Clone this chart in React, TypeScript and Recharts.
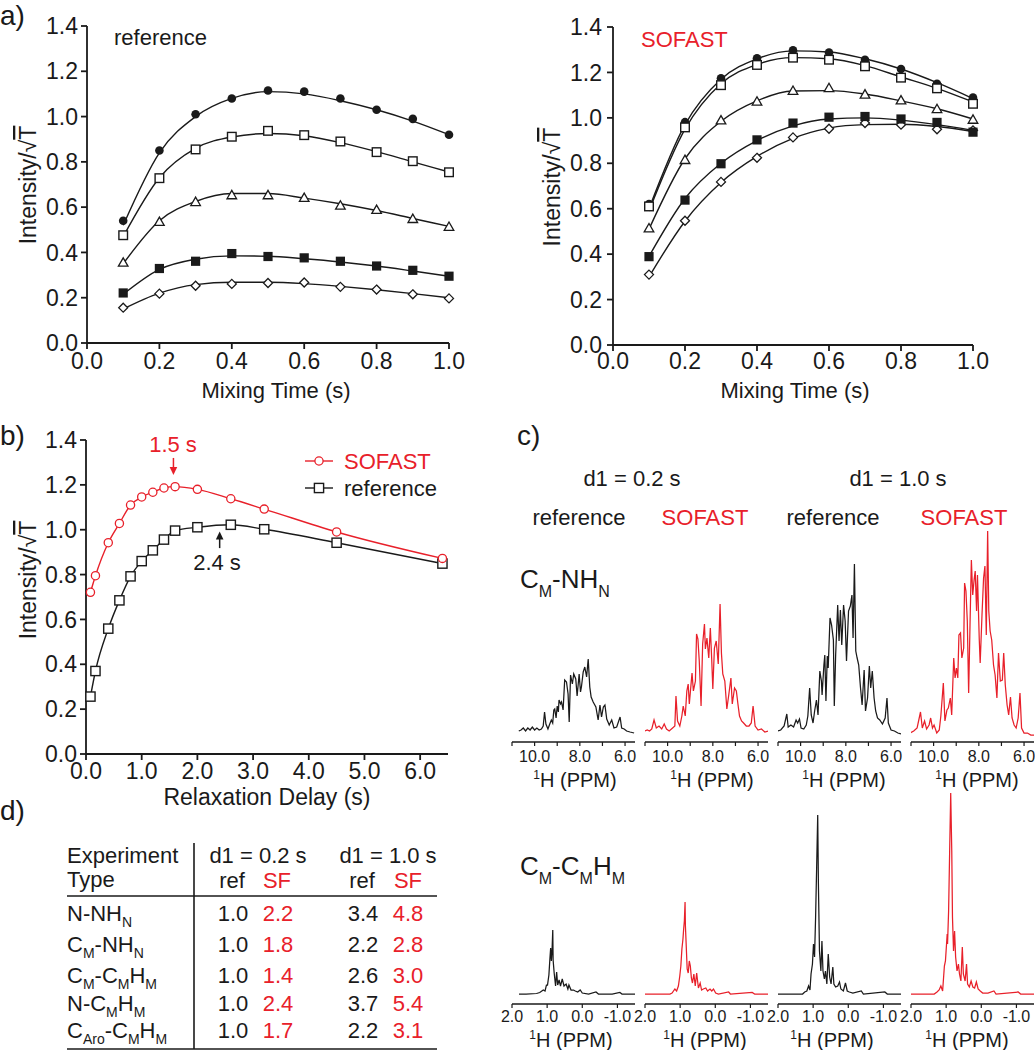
import React from "react";
import {
  ComposedChart,
  LineChart,
  Line,
  XAxis,
  YAxis,
  ReferenceLine,
  ReferenceDot,
} from "recharts";

const FONT = '"Liberation Sans", Arial, Helvetica, sans-serif';
const INK = "#1a1a1a";
const RED = "#e8202a";

// ---- a) intensity vs mixing time ----
const mixingTime = [0.1, 0.2, 0.3, 0.4, 0.5, 0.6, 0.7, 0.8, 0.9, 1.0];
const mixTicks = [0, 0.2, 0.4, 0.6, 0.8, 1.0];
const intensityTicks = [0, 0.2, 0.4, 0.6, 0.8, 1.0, 1.2, 1.4];

// reference experiment
const refDot = [0.54, 0.85, 1.01, 1.08, 1.115, 1.11, 1.08, 1.03, 0.99, 0.92];
const refBox = [0.476, 0.728, 0.855, 0.911, 0.937, 0.918, 0.89, 0.843, 0.803, 0.754];
const refTri = [0.355, 0.535, 0.623, 0.653, 0.653, 0.641, 0.607, 0.588, 0.548, 0.513];
const refSolid = [0.221, 0.329, 0.361, 0.395, 0.382, 0.376, 0.361, 0.34, 0.321, 0.295];
const refDiamond = [0.156, 0.218, 0.253, 0.261, 0.265, 0.267, 0.248, 0.236, 0.215, 0.197];
const refDotFit = [0.52, 0.84, 1.0, 1.08, 1.11, 1.1, 1.07, 1.03, 0.98, 0.92];
const refBoxFit = [0.47, 0.73, 0.86, 0.91, 0.925, 0.915, 0.885, 0.845, 0.8, 0.755];
const refTriFit = [0.35, 0.54, 0.625, 0.66, 0.66, 0.64, 0.615, 0.585, 0.55, 0.515];
const refSolidFit = [0.215, 0.325, 0.37, 0.385, 0.383, 0.372, 0.358, 0.34, 0.318, 0.295];
const refDiamondFit = [0.15, 0.22, 0.258, 0.268, 0.268, 0.262, 0.25, 0.235, 0.218, 0.2];

// SOFAST experiment
const sfDot = [0.621, 0.981, 1.174, 1.262, 1.297, 1.288, 1.256, 1.215, 1.15, 1.089];
const sfBox = [0.61, 0.958, 1.144, 1.233, 1.265, 1.256, 1.227, 1.177, 1.13, 1.062];
const sfTri = [0.514, 0.815, 0.989, 1.072, 1.119, 1.131, 1.103, 1.077, 1.039, 0.992];
const sfSolid = [0.389, 0.638, 0.798, 0.903, 0.977, 1.003, 1.006, 0.995, 0.98, 0.937];
const sfDiamond = [0.31, 0.547, 0.718, 0.824, 0.914, 0.952, 0.977, 0.97, 0.95, 0.945];
const sfDotFit = [0.6, 0.97, 1.17, 1.26, 1.295, 1.29, 1.26, 1.215, 1.155, 1.085];
const sfBoxFit = [0.59, 0.95, 1.15, 1.235, 1.265, 1.26, 1.23, 1.18, 1.13, 1.07];
const sfTriFit = [0.51, 0.82, 0.985, 1.075, 1.118, 1.12, 1.105, 1.075, 1.04, 0.995];
const sfSolidFit = [0.39, 0.645, 0.8, 0.9, 0.965, 0.995, 1.0, 0.99, 0.97, 0.945];
const sfDiamondFit = [0.3, 0.545, 0.715, 0.83, 0.91, 0.955, 0.97, 0.972, 0.962, 0.94];

// ---- b) intensity vs relaxation delay ----
const relaxDelay = [0.08, 0.17, 0.4, 0.6, 0.8, 1.0, 1.2, 1.4, 1.6, 2.0, 2.6, 3.2, 4.5, 6.4];
const sofastRelax = [0.721, 0.795, 0.942, 1.028, 1.11, 1.146, 1.167, 1.186, 1.192, 1.18, 1.138, 1.092, 0.99, 0.872];
const referenceRelax = [0.256, 0.37, 0.559, 0.685, 0.792, 0.86, 0.908, 0.956, 0.996, 1.011, 1.022, 1.002, 0.942, 0.849];
const relaxTicks = [0, 1, 2, 3, 4, 5, 6];

// ---- c) 1D spectra [ppm, intensity] ----
const amideTicks = [11, 10, 9, 8, 7, 6];
const methylTicks = [2, 1, 0, -1];

const nhRef02: [number, number][] = [
  [10.7, 1], [10.6, 2], [10.5, 4], [10.4, 1], [10.3, 4], [10.2, 2], [10.1, 5], [10.0, 2], [9.9, 4], [9.8, 2],
  [9.7, 3], [9.62, 6], [9.56, 20], [9.5, 8], [9.41, 3], [9.33, 8], [9.26, 12], [9.2, 9], [9.15, 22], [9.11, 23],
  [9.05, 14], [9.0, 26], [8.95, 20], [8.92, 32], [8.85, 28], [8.81, 30], [8.74, 22], [8.67, 52], [8.59, 50],
  [8.52, 38], [8.47, 10], [8.41, 57], [8.33, 48], [8.27, 58], [8.18, 53], [8.12, 36], [8.03, 58], [7.97, 40],
  [7.93, 45], [7.85, 60], [7.78, 65], [7.7, 55], [7.63, 73], [7.56, 45], [7.5, 35], [7.41, 30], [7.29, 25],
  [7.19, 12], [7.11, 27], [7.04, 15], [6.96, 25], [6.89, 27], [6.81, 13], [6.7, 7], [6.59, 12], [6.49, 4],
  [6.37, 5], [6.22, 15], [6.15, 4], [6.04, 3], [5.93, 1], [5.78, 0], [5.6, -1],
];
const nhSf02: [number, number][] = [
  [11.0, 1], [10.9, 2], [10.8, 1], [10.7, 3], [10.6, 12], [10.5, 4], [10.38, 6], [10.26, 3], [10.15, 8], [10.05, 3],
  [9.93, 1], [9.78, 4], [9.68, 6], [9.63, 36], [9.56, 11], [9.46, 6], [9.37, 16], [9.31, 26], [9.22, 16], [9.15, 41],
  [9.09, 48], [9.04, 28], [8.92, 59], [8.86, 41], [8.77, 51], [8.72, 98], [8.66, 93], [8.6, 71], [8.52, 26],
  [8.45, 88], [8.37, 108], [8.33, 83], [8.26, 94], [8.18, 74], [8.11, 104], [8.05, 73], [8.0, 43], [7.93, 84],
  [7.85, 91], [7.76, 68], [7.68, 128], [7.62, 79], [7.56, 58], [7.47, 51], [7.38, 23], [7.29, 38], [7.2, 54],
  [7.14, 28], [7.04, 44], [6.96, 41], [6.89, 28], [6.82, 16], [6.73, 11], [6.64, 9], [6.52, 6], [6.4, 6],
  [6.3, 9], [6.22, 26], [6.13, 6], [6.0, 2], [5.85, 3], [5.7, 0], [5.56, 1],
];
const nhRef10: [number, number][] = [
  [11.0, 1], [10.88, 2], [10.73, 6], [10.61, 18], [10.55, 5], [10.43, 7], [10.31, 5], [10.2, 12], [10.13, 9],
  [10.05, 13], [9.98, 4], [9.86, 3], [9.75, 7], [9.68, 16], [9.6, 44], [9.53, 17], [9.45, 9], [9.38, 21],
  [9.3, 32], [9.23, 17], [9.15, 61], [9.08, 51], [9.05, 37], [8.97, 67], [8.93, 77], [8.88, 31], [8.82, 76],
  [8.78, 64], [8.7, 114], [8.63, 107], [8.55, 92], [8.51, 26], [8.45, 77], [8.36, 127], [8.3, 91], [8.24, 122],
  [8.18, 87], [8.1, 127], [8.03, 111], [7.97, 71], [7.88, 121], [7.8, 126], [7.73, 137], [7.68, 94], [7.62, 168],
  [7.56, 81], [7.5, 74], [7.43, 67], [7.35, 44], [7.28, 27], [7.19, 62], [7.13, 21], [7.04, 34], [6.96, 66],
  [6.9, 44], [6.83, 61], [6.75, 34], [6.68, 21], [6.6, 14], [6.5, 12], [6.38, 8], [6.26, 14], [6.18, 34],
  [6.12, 9], [6.0, 2], [5.85, 1], [5.7, -1], [5.56, -2],
];
const nhSf10: [number, number][] = [
  [11.03, -1], [10.88, 1], [10.73, 4], [10.58, 20], [10.5, 4], [10.4, 11], [10.31, 3], [10.2, 7], [10.13, 14],
  [10.05, 4], [9.98, 7], [9.86, -1], [9.75, 2], [9.68, 16], [9.57, 49], [9.5, 11], [9.41, 22], [9.35, 24],
  [9.26, 34], [9.2, 17], [9.11, 74], [9.05, 54], [8.99, 64], [8.93, 54], [8.88, 97], [8.81, 99], [8.75, 74],
  [8.67, 84], [8.63, 149], [8.57, 141], [8.51, 111], [8.45, 39], [8.39, 107], [8.33, 172], [8.27, 137],
  [8.21, 152], [8.16, 161], [8.1, 121], [8.06, 157], [7.98, 92], [7.94, 69], [7.86, 117], [7.79, 154],
  [7.73, 166], [7.67, 97], [7.61, 201], [7.56, 121], [7.5, 101], [7.43, 92], [7.35, 67], [7.28, 57], [7.2, 34],
  [7.13, 79], [7.05, 51], [6.96, 52], [6.9, 79], [6.83, 47], [6.75, 27], [6.68, 17], [6.6, 35], [6.53, 14],
  [6.44, 7], [6.35, 4], [6.26, 14], [6.18, 39], [6.11, 4], [6.0, -1], [5.85, -1], [5.7, -3], [5.56, -3],
];

const meRef02: [number, number][] = [
  [1.8, 0], [1.6, 0], [1.3, 0.5], [1.21, 1.5], [1.11, 4], [1.06, 3], [1.02, 9], [0.99, 9], [0.95, 19], [0.92, 36],
  [0.9, 46], [0.88, 33], [0.86, 44], [0.84, 64], [0.83, 34], [0.8, 21], [0.76, 8], [0.73, 22], [0.7, 9],
  [0.66, 14], [0.62, 8], [0.57, 15], [0.52, 8], [0.46, 10], [0.41, 5], [0.38, 9], [0.32, 4], [0.25, 4],
  [0.2, 3], [0.13, 2], [0.06, 4], [0.0, 1], [-0.18, 0], [-0.39, 2], [-0.46, 0], [-0.85, 0], [-1.07, 1.5],
  [-1.13, 0], [-1.5, 0],
];
const meSf02: [number, number][] = [
  [2.0, 0], [1.6, 0], [1.29, 0], [1.23, 1], [1.15, 5], [1.1, 3], [1.05, 8], [1.01, 18], [0.98, 28], [0.95, 45],
  [0.92, 55], [0.9, 65], [0.88, 73], [0.86, 92], [0.85, 68], [0.83, 51], [0.8, 25], [0.77, 21], [0.74, 33],
  [0.71, 28], [0.68, 16], [0.65, 11], [0.61, 20], [0.57, 8], [0.53, 21], [0.48, 6], [0.43, 11], [0.39, 4],
  [0.34, 5], [0.27, 6], [0.22, 3], [0.15, 5], [0.1, 3], [0.05, 5], [-0.01, 1], [-0.09, 0], [-0.38, 2],
  [-0.43, 0], [-1.05, 1.5], [-1.12, 0], [-1.5, 0],
];
const meRef10: [number, number][] = [
  [2.0, 0], [1.6, 0], [1.3, 0], [1.24, 2], [1.18, 3], [1.13, 8], [1.09, 4], [1.06, 20], [1.02, 30], [0.99, 50],
  [0.96, 37], [0.93, 77], [0.9, 127], [0.87, 179], [0.85, 110], [0.82, 43], [0.78, 23], [0.75, 53], [0.72, 23],
  [0.68, 15], [0.65, 23], [0.61, 10], [0.57, 40], [0.53, 17], [0.49, 10], [0.44, 27], [0.41, 10], [0.36, 7],
  [0.3, 8], [0.25, 12], [0.21, 5], [0.14, 3], [0.08, 11], [0.03, 3], [-0.03, 2], [-0.13, 1], [-0.37, 3],
  [-0.43, 0], [-1.04, 2], [-1.11, 0], [-1.5, 0],
];
const meSf10: [number, number][] = [
  [2.0, 0], [1.6, 0], [1.34, 0], [1.26, 2], [1.2, 4], [1.15, 8], [1.1, 3], [1.05, 28], [1.02, 33], [0.97, 60],
  [0.96, 50], [0.93, 83], [0.9, 143], [0.87, 201], [0.84, 143], [0.82, 77], [0.79, 43], [0.76, 63], [0.73, 37],
  [0.69, 23], [0.65, 30], [0.62, 20], [0.58, 13], [0.54, 47], [0.51, 20], [0.46, 13], [0.42, 30], [0.39, 10],
  [0.34, 7], [0.29, 13], [0.24, 7], [0.19, 6], [0.14, 12], [0.09, 5], [0.03, 3], [-0.04, 1], [-0.19, 1],
  [-0.36, 3], [-0.42, 0], [-1.05, 2], [-1.12, 0], [-1.5, 0],
];

// ---- d) sensitivity table ----
const experimentTypes: [string, boolean][][] = [
  [["N-NH", false], ["N", true]],
  [["C", false], ["M", true], ["-NH", false], ["N", true]],
  [["C", false], ["M", true], ["-C", false], ["M", true], ["H", false], ["M", true]],
  [["N-C", false], ["M", true], ["H", false], ["M", true]],
  [["C", false], ["Aro", true], ["-C", false], ["M", true], ["H", false], ["M", true]],
];
const ref02 = ["1.0", "1.0", "1.0", "1.0", "1.0"];
const sf02 = ["2.2", "1.8", "1.4", "2.4", "1.7"];
const ref10 = ["3.4", "2.2", "2.6", "3.7", "2.2"];
const sf10 = ["4.8", "2.8", "3.0", "5.4", "3.1"];

type Kind = "dot" | "box" | "tri" | "solid" | "diamond" | "ring" | "square";

function Marker({ kind, cx, cy, color = INK }: { kind: Kind; cx?: number; cy?: number; color?: string }) {
  if (cx == null || cy == null) return null;
  switch (kind) {
    case "dot":
      return <circle cx={cx} cy={cy} r={4.3} fill={color} />;
    case "box":
      return <rect x={cx - 4.3} y={cy - 4.3} width={8.6} height={8.6} fill="#fff" stroke={color} strokeWidth={1.4} />;
    case "square":
      return <rect x={cx - 4.6} y={cy - 4.6} width={9.2} height={9.2} fill="#fff" stroke={color} strokeWidth={1.4} />;
    case "solid":
      return <rect x={cx - 4.6} y={cy - 4.6} width={9.2} height={9.2} fill={color} />;
    case "tri":
      return (
        <polygon
          points={`${cx},${cy - 4.8} ${cx + 4.8},${cy + 3.6} ${cx - 4.8},${cy + 3.6}`}
          fill="#fff"
          stroke={color}
          strokeWidth={1.3}
        />
      );
    case "diamond":
      return (
        <polygon
          points={`${cx},${cy - 4.5} ${cx + 4.5},${cy} ${cx},${cy + 4.5} ${cx - 4.5},${cy}`}
          fill="#fff"
          stroke={color}
          strokeWidth={1.3}
        />
      );
    case "ring":
      return <circle cx={cx} cy={cy} r={4.1} fill="#fff" stroke={color} strokeWidth={1.3} />;
  }
  return null;
}

const dotOf = (kind: Kind, color?: string) => (p: any) =>
  <Marker key={`${kind}-${p.index}`} kind={kind} cx={p.cx} cy={p.cy} color={color} />;

const axisLine = { stroke: INK, strokeWidth: 1.8 };
const tickStyle = (size: number) => ({ fill: INK, fontSize: size, fontFamily: FONT });

type MixSeries = { key: string; values: number[]; fit: number[]; kind: Kind };

function MixingPanel(props: {
  left: number;
  width: number;
  plotLeft: number;
  plotRight: number;
  plotTop: number;
  plotBottom: number;
  series: MixSeries[];
  yTickMargin: number;
  xTickMargin: number;
}) {
  const { left, width, plotLeft, plotRight, plotTop, plotBottom, series, yTickMargin, xTickMargin } = props;
  const height = 400;
  const rows = mixingTime.map((t, i) => {
    const r: Record<string, number> = { t };
    series.forEach((s) => {
      r[s.key] = s.values[i];
      r[s.key + "Fit"] = s.fit[i];
    });
    return r;
  });
  return (
    <div style={{ position: "absolute", left, top: 0 }}>
      <ComposedChart
        width={width}
        height={height}
        data={rows}
        margin={{ top: plotTop, right: left + width - plotRight, bottom: 0, left: 0 }}
      >
        <XAxis
          type="number"
          dataKey="t"
          domain={[0, 1]}
          ticks={mixTicks}
          interval={0}
          tickFormatter={(v: number) => v.toFixed(1)}
          height={height - plotBottom}
          tickSize={6}
          tickMargin={xTickMargin}
          tick={tickStyle(23)}
          axisLine={axisLine}
          tickLine={axisLine}
        />
        <YAxis
          type="number"
          domain={[0, 1.4]}
          ticks={intensityTicks}
          interval={0}
          tickFormatter={(v: number) => v.toFixed(1)}
          width={plotLeft - left}
          tickSize={6}
          tickMargin={yTickMargin}
          tick={tickStyle(23)}
          axisLine={axisLine}
          tickLine={axisLine}
        />
        {series.map((s) => (
          <Line
            key={s.key + "Fit"}
            dataKey={s.key + "Fit"}
            type="monotone"
            stroke={INK}
            strokeWidth={1.4}
            dot={false}
            activeDot={false}
            isAnimationActive={false}
          />
        ))}
        {series.map((s) => (
          <Line
            key={s.key}
            dataKey={s.key}
            stroke="none"
            dot={dotOf(s.kind)}
            activeDot={false}
            isAnimationActive={false}
          />
        ))}
      </ComposedChart>
    </div>
  );
}

function RelaxPanel() {
  const rows = relaxDelay.map((d, i) => ({ d, sofast: sofastRelax[i], reference: referenceRelax[i] }));
  return (
    <div style={{ position: "absolute", left: 0, top: 400 }}>
      <ComposedChart width={520} height={384} data={rows} margin={{ top: 40, right: 72, bottom: 0, left: 0 }}>
        <XAxis
          type="number"
          dataKey="d"
          domain={[0, 6.5]}
          ticks={relaxTicks}
          interval={0}
          tickFormatter={(v: number) => v.toFixed(1)}
          height={30}
          tickSize={6}
          tickMargin={3}
          tick={tickStyle(23)}
          axisLine={axisLine}
          tickLine={axisLine}
        />
        <YAxis
          type="number"
          domain={[0, 1.4]}
          ticks={intensityTicks}
          interval={0}
          tickFormatter={(v: number) => v.toFixed(1)}
          width={86}
          tickSize={6}
          tickMargin={3}
          tick={tickStyle(23)}
          axisLine={axisLine}
          tickLine={axisLine}
        />
        <Line
          dataKey="reference"
          type="monotone"
          stroke={INK}
          strokeWidth={1.4}
          dot={dotOf("square", INK)}
          activeDot={false}
          isAnimationActive={false}
        />
        <Line
          dataKey="sofast"
          type="monotone"
          stroke={RED}
          strokeWidth={1.4}
          dot={dotOf("ring", RED)}
          activeDot={false}
          isAnimationActive={false}
        />
        <ReferenceLine segment={[{ x: 1.57, y: 1.32 }, { x: 1.57, y: 1.27 }]} stroke={RED} strokeWidth={1.5} />
        <ReferenceDot
          x={1.57}
          y={1.244}
          r={0}
          shape={(p: any) => (
            <polygon points={`${p.cx},${p.cy} ${p.cx - 3.8},${p.cy - 8} ${p.cx + 3.8},${p.cy - 8}`} fill={RED} />
          )}
        />
        <ReferenceLine segment={[{ x: 2.4, y: 0.918 }, { x: 2.4, y: 0.97 }]} stroke={INK} strokeWidth={1.5} />
        <ReferenceDot
          x={2.4}
          y={0.992}
          r={0}
          shape={(p: any) => (
            <polygon points={`${p.cx},${p.cy} ${p.cx - 3.8},${p.cy + 8} ${p.cx + 3.8},${p.cy + 8}`} fill={INK} />
          )}
        />
      </ComposedChart>
    </div>
  );
}

function Spectrum(props: {
  left: number;
  top: number;
  data: [number, number][];
  color: string;
  domain: [number, number];
  ticks: number[];
  everyOther?: boolean;
  tickMargin: number;
}) {
  const { left, top, data, color, domain, ticks, everyOther, tickMargin } = props;
  const rows = data.map(([ppm, v]) => ({ ppm, v }));
  return (
    <div style={{ position: "absolute", left: left - 15, top }}>
      <LineChart width={153} height={260} data={rows} margin={{ top: 10, right: 15, bottom: 0, left: 15 }}>
        <XAxis
          type="number"
          dataKey="ppm"
          domain={domain}
          reversed
          allowDataOverflow
          ticks={ticks}
          interval={0}
          tickFormatter={(v: number) => (everyOther && Math.abs(v) % 2 === 1 ? "" : v.toFixed(1))}
          height={30}
          tickSize={4}
          tickMargin={tickMargin}
          tick={tickStyle(16)}
          axisLine={{ stroke: INK, strokeWidth: 1.5 }}
          tickLine={{ stroke: INK, strokeWidth: 1.2 }}
        />
        <YAxis hide type="number" domain={[-10, 210]} allowDataOverflow />
        <Line
          dataKey="v"
          type="linear"
          stroke={color}
          strokeWidth={1.25}
          dot={false}
          activeDot={false}
          isAnimationActive={false}
        />
      </LineChart>
    </div>
  );
}

function Txt(props: {
  x: number;
  y: number;
  size?: number;
  color?: string;
  anchor?: "start" | "middle" | "end";
  rotate?: number;
  children: React.ReactNode;
}) {
  const { x, y, size = 22, color = INK, anchor = "middle", rotate, children } = props;
  return (
    <text
      x={x}
      y={y}
      fontSize={size}
      fill={color}
      textAnchor={anchor}
      dominantBaseline="central"
      fontFamily={FONT}
      transform={rotate ? `rotate(${rotate} ${x} ${y})` : undefined}
    >
      {children}
    </text>
  );
}

function SubText({ x, y, parts, size, subSize, shift }: { x: number; y: number; parts: [string, boolean][]; size: number; subSize: number; shift: number }) {
  return (
    <text x={x} y={y} fontSize={size} fill={INK} fontFamily={FONT}>
      {parts.map(([s, sub], i) => {
        const prevSub = i > 0 && parts[i - 1][1];
        const dy = sub ? shift : prevSub ? -shift : 0;
        return (
          <tspan key={i} dy={dy} fontSize={sub ? subSize : size}>
            {s}
          </tspan>
        );
      })}
    </text>
  );
}

function PpmLabel({ x, y }: { x: number; y: number }) {
  return (
    <text x={x} y={y} fontSize={20} fill={INK} textAnchor="middle" fontFamily={FONT}>
      <tspan fontSize={12} dy={-8}>1</tspan>
      <tspan dy={8}>H (PPM)</tspan>
    </text>
  );
}

function YTitle({ x, y }: { x: number; y: number }) {
  return (
    <Txt x={x} y={y} size={23} rotate={-90}>
      Intensity/√<tspan style={{ textDecoration: "overline" }}>T</tspan>
    </Txt>
  );
}

const refSeries: MixSeries[] = [
  { key: "dot", values: refDot, fit: refDotFit, kind: "dot" },
  { key: "box", values: refBox, fit: refBoxFit, kind: "box" },
  { key: "tri", values: refTri, fit: refTriFit, kind: "tri" },
  { key: "diamond", values: refDiamond, fit: refDiamondFit, kind: "diamond" },
  { key: "solid", values: refSolid, fit: refSolidFit, kind: "solid" },
];
const sfSeries: MixSeries[] = [
  { key: "dot", values: sfDot, fit: sfDotFit, kind: "dot" },
  { key: "box", values: sfBox, fit: sfBoxFit, kind: "box" },
  { key: "tri", values: sfTri, fit: sfTriFit, kind: "tri" },
  { key: "diamond", values: sfDiamond, fit: sfDiamondFit, kind: "diamond" },
  { key: "solid", values: sfSolid, fit: sfSolidFit, kind: "solid" },
];

const colLeft = [512, 645, 778, 911];

export default function App() {
  const tableLine = { stroke: INK, strokeWidth: 1.6 };
  return (
    <div style={{ position: "absolute", left: 0, top: 0, width: 1035, height: 1050, background: "#fff", overflow: "hidden" }}>
      <MixingPanel left={0} width={520} plotLeft={87} plotRight={449} plotTop={26} plotBottom={343} series={refSeries} yTickMargin={3} xTickMargin={4} />
      <MixingPanel left={520} width={515} plotLeft={613} plotRight={973} plotTop={27} plotBottom={345} series={sfSeries} yTickMargin={5} xTickMargin={2} />
      <RelaxPanel />

      <Spectrum left={colLeft[0]} top={512} data={nhRef02} color={INK} domain={[5.56, 11]} ticks={amideTicks} everyOther tickMargin={5} />
      <Spectrum left={colLeft[1]} top={512} data={nhSf02} color={RED} domain={[5.56, 11]} ticks={amideTicks} everyOther tickMargin={5} />
      <Spectrum left={colLeft[2]} top={512} data={nhRef10} color={INK} domain={[5.56, 11]} ticks={amideTicks} everyOther tickMargin={5} />
      <Spectrum left={colLeft[3]} top={512} data={nhSf10} color={RED} domain={[5.56, 11]} ticks={amideTicks} everyOther tickMargin={5} />

      <Spectrum left={colLeft[0]} top={774} data={meRef02} color={INK} domain={[-1.5, 2.0]} ticks={methylTicks} tickMargin={3} />
      <Spectrum left={colLeft[1]} top={774} data={meSf02} color={RED} domain={[-1.5, 2.0]} ticks={methylTicks} tickMargin={3} />
      <Spectrum left={colLeft[2]} top={774} data={meRef10} color={INK} domain={[-1.5, 2.0]} ticks={methylTicks} tickMargin={3} />
      <Spectrum left={colLeft[3]} top={774} data={meSf10} color={RED} domain={[-1.5, 2.0]} ticks={methylTicks} tickMargin={3} />

      <svg width={1035} height={1050} style={{ position: "absolute", left: 0, top: 0, pointerEvents: "none" }}>
        {/* panel letters */}
        <Txt x={0} y={15} size={28} anchor="start">a)</Txt>
        <Txt x={0} y={435} size={28} anchor="start">b)</Txt>
        <Txt x={517} y={435} size={28} anchor="start">c)</Txt>
        <Txt x={0} y={810} size={28} anchor="start">d)</Txt>

        {/* a) */}
        <Txt x={114} y={37} anchor="start">reference</Txt>
        <Txt x={641} y={39} anchor="start" color={RED}>SOFAST</Txt>
        <Txt x={276} y={390} size={22}>Mixing Time (s)</Txt>
        <Txt x={795} y={390} size={22}>Mixing Time (s)</Txt>
        <YTitle x={28} y={185} />
        <YTitle x={552} y={187} />

        {/* b) */}
        <YTitle x={28} y={580} />
        <Txt x={267} y={797} size={23}>Relaxation Delay (s)</Txt>
        <Txt x={173} y={444} color={RED}>1.5 s</Txt>
        <Txt x={217} y={562}>2.4 s</Txt>
        <line x1={305} y1={461} x2={333} y2={461} stroke={RED} strokeWidth={1.4} />
        <Marker kind="ring" cx={319} cy={461} color={RED} />
        <Txt x={344} y={461} anchor="start" color={RED}>SOFAST</Txt>
        <line x1={305} y1={488} x2={333} y2={488} stroke={INK} strokeWidth={1.4} />
        <Marker kind="square" cx={319} cy={488} color={INK} />
        <Txt x={344} y={488} anchor="start">reference</Txt>

        {/* c) */}
        <Txt x={632} y={478}>d1 = 0.2 s</Txt>
        <Txt x={898} y={478}>d1 = 1.0 s</Txt>
        <Txt x={579} y={517}>reference</Txt>
        <Txt x={705} y={517} color={RED}>SOFAST</Txt>
        <Txt x={833} y={517}>reference</Txt>
        <Txt x={964} y={517} color={RED}>SOFAST</Txt>
        <SubText x={520} y={588} parts={[["C", false], ["M", true], ["-NH", false], ["N", true]]} size={26} subSize={16} shift={9} />
        <SubText x={520} y={875} parts={[["C", false], ["M", true], ["-C", false], ["M", true], ["H", false], ["M", true]]} size={26} subSize={16} shift={9} />
        <PpmLabel x={575} y={787} />
        <PpmLabel x={712} y={787} />
        <PpmLabel x={844} y={787} />
        <PpmLabel x={977} y={787} />
        <PpmLabel x={571} y={1047} />
        <PpmLabel x={705} y={1047} />
        <PpmLabel x={832} y={1047} />
        <PpmLabel x={967} y={1047} />

        {/* d) */}
        <Txt x={67} y={855} anchor="start">Experiment</Txt>
        <Txt x={67} y={879} anchor="start">Type</Txt>
        <Txt x={258} y={855}>d1 = 0.2 s</Txt>
        <Txt x={388} y={855}>d1 = 1.0 s</Txt>
        <Txt x={232} y={880}>ref</Txt>
        <Txt x={277} y={880} color={RED}>SF</Txt>
        <Txt x={362} y={880}>ref</Txt>
        <Txt x={408} y={880} color={RED}>SF</Txt>
        <line x1={194} y1={843} x2={194} y2={1049} {...tableLine} />
        <line x1={67} y1={896} x2={437} y2={896} {...tableLine} />
        <line x1={67} y1={1049} x2={437} y2={1049} {...tableLine} />
        {experimentTypes.map((parts, i) => {
          const cy = [913, 944, 975, 1003, 1030][i];
          return (
            <g key={i}>
              <SubText x={67} y={cy + 8} parts={parts} size={22} subSize={14} shift={6} />
              <Txt x={233} y={cy}>{ref02[i]}</Txt>
              <Txt x={278} y={cy} color={RED}>{sf02[i]}</Txt>
              <Txt x={363} y={cy}>{ref10[i]}</Txt>
              <Txt x={408} y={cy} color={RED}>{sf10[i]}</Txt>
            </g>
          );
        })}
      </svg>
    </div>
  );
}
